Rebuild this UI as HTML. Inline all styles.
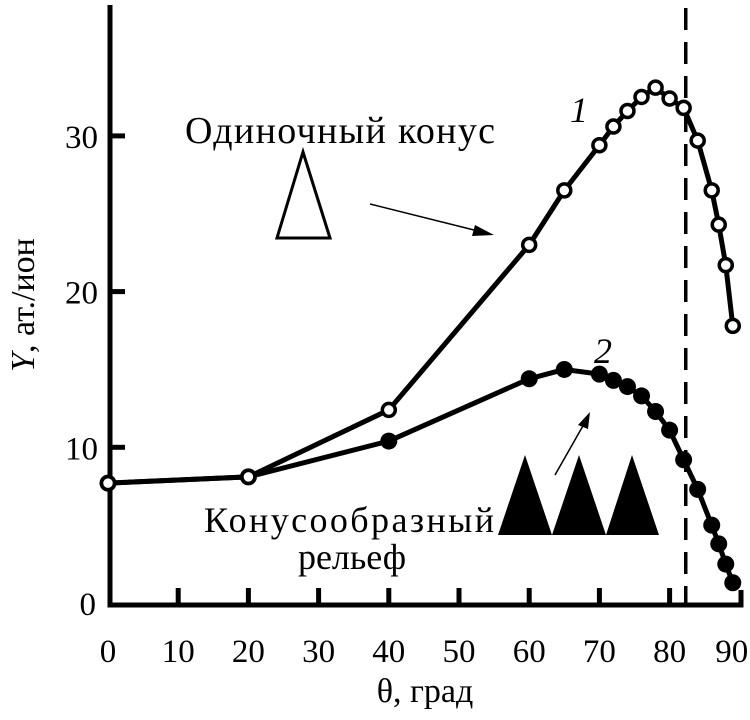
<!DOCTYPE html>
<html><head><meta charset="utf-8"><style>
body{margin:0;background:#fff}
svg{display:block}
text{font-family:"Liberation Serif","DejaVu Serif",serif;fill:#000}
</style></head><body>
<svg id="chart" width="750" height="720" viewBox="0 0 750 720">
<g id="axes"></g>
<g id="series"></g>
<g>
<text x="340" y="143" font-size="38" text-anchor="middle" textLength="310">Одиночный конус</text>
<polygon points="277,238 330,238 303,152" fill="#fff" stroke="#000" stroke-width="3"/>
<line x1="370" y1="204" x2="478" y2="231" stroke="#000" stroke-width="1.5"/>
<polygon points="494,235 475,225 472,236" fill="#000"/>
<text x="570" y="122" font-size="36" font-style="italic">1</text>
<text x="594" y="363" font-size="36" font-style="italic">2</text>
<line x1="555" y1="475" x2="584" y2="424" stroke="#000" stroke-width="1.5"/>
<polygon points="590,412 578,425 588,429" fill="#000"/>
<text x="349" y="532" font-size="36" text-anchor="middle" textLength="290">Конусообразный</text>
<text x="352" y="569" font-size="36" text-anchor="middle">рельеф</text>
<polygon points="498,535 525,455 552,535 579,455 606,535 632,455 659,535" fill="#000"/>
<text transform="translate(34,305) rotate(-90)" font-size="34" text-anchor="middle"><tspan font-style="italic">Y</tspan>, ат./ион</text>
<text x="425" y="702" font-size="34" text-anchor="middle">θ, град</text>
</g>
</svg>
<script>
const xTicks=[0,10,20,30,40,50,60,70,80,90];
const yTicks=[0,10,20,30];
const s1x=[0,20,40,60,65,70,72,74,76,78,80,82,84,86,87,88,89];
const s1y=[7.7,8.1,12.4,23.0,26.5,29.4,30.6,31.6,32.5,33.1,32.4,31.8,29.7,26.5,24.3,21.7,17.8];
const s2x=[0,20,40,60,65,70,72,74,76,78,80,82,84,86,87,88,89];
const s2y=[7.7,8.1,10.4,14.4,15.0,14.7,14.3,13.9,13.3,12.3,11.1,9.2,7.3,5.0,3.8,2.5,1.3];
const dashX=82.3;
const NS="http://www.w3.org/2000/svg";
const X=v=>108+v*7.02, Y=v=>603-v*15.57;
const ax=document.getElementById('axes'), se=document.getElementById('series');
function mk(tag,at,par){const e=document.createElementNS(NS,tag);for(const k in at)e.setAttribute(k,at[k]);par.appendChild(e);return e;}
let a=mk('path',{d:`M110,5 V605 H741 V590`,fill:'none',stroke:'#000','stroke-width':5},ax);


xTicks.forEach(t=>{
 if(t>0&&t<90){const l=mk('line',{x1:X(t),x2:X(t),y1:603,y2:588,stroke:'#000','stroke-width':5},ax);
 
 }
 const tx=mk('text',{x:t==90?X(t)-8:X(t),y:662,'font-size':33,'text-anchor':'middle'},ax);tx.textContent=t;
 
 
});
yTicks.forEach(t=>{
 if(t>0){const l=mk('line',{x1:110,x2:125,y1:Y(t),y2:Y(t),stroke:'#000','stroke-width':5},ax);
 
 }
 const tx=mk('text',{x:t>0?98:96,y:Y(t)+12,'font-size':33,'text-anchor':'end'},ax);tx.textContent=t;
 
 
});
const d=mk('line',{x1:X(dashX),x2:X(dashX),y1:8,y2:603,stroke:'#000','stroke-width':3.5,'stroke-dasharray':'22,12'},ax);


function series(xs,ys,open,name){
 const p=mk('polyline',{points:xs.map((x,i)=>X(x)+','+Y(ys[i])).join(' '),fill:'none',stroke:'#000','stroke-width':5,'stroke-linejoin':'round'},se);
 
 
 xs.forEach((x,i)=>{const c=mk('circle',{cx:X(x),cy:Y(ys[i]),r:open?6.5:8.5,fill:open?'#fff':'#000',stroke:'#000','stroke-width':open?3.5:0},se);
  
  });
}
series(s2x,s2y,false,'cone-relief');
series(s1x,s1y,true,'single-cone');
</script>
</body></html>
